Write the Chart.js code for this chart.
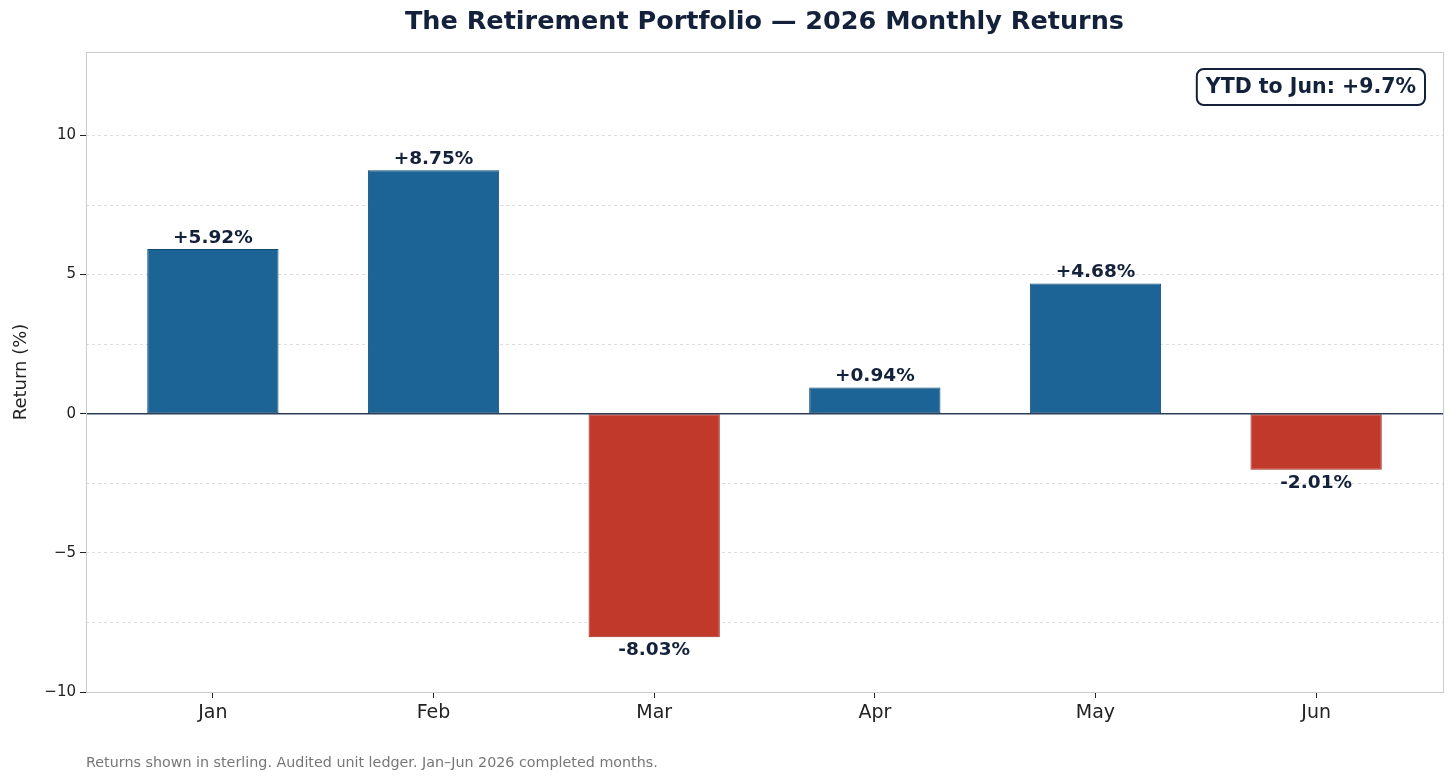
<!DOCTYPE html>
<html>
<head>
<meta charset="utf-8">
<script src="https://cdn.jsdelivr.net/npm/chart.js@4.4.1/dist/chart.umd.min.js"></script>
<style>
  html, body { margin: 0; padding: 0; background: #fff; }
  #wrap { width: 1456px; height: 783px; position: relative; }
</style>
</head>
<body>
<div id="wrap"><canvas id="c" width="1456" height="783"></canvas></div>
<script>
// data
const months = ['Jan', 'Feb', 'Mar', 'Apr', 'May', 'Jun'];
const returns = [5.92, 8.75, -8.03, 0.94, 4.68, -2.01];
const yTicks = [-10, -5, 0, 5, 10];
const ytdText = 'YTD to Jun: +9.7%';
const titleText = 'The Retirement Portfolio \u2014 2026 Monthly Returns';
const footText = 'Returns shown in sterling. Audited unit ledger. Jan\u2013Jun 2026 completed months.';

const NAVY = '#13213b';
const FONT = '"DejaVu Sans", sans-serif';

// frame, zero line, value labels, title, ytd box, footnote
const extras = {
  id: 'extras',
  afterDatasetsDraw(chart) {
    const { ctx, chartArea: a, scales } = chart;
    const y0 = scales.y.getPixelForValue(0);
    ctx.save();
    ctx.strokeStyle = '#2c3e5a';
    ctx.lineWidth = 1.5;
    ctx.beginPath();
    ctx.moveTo(a.left, y0);
    ctx.lineTo(a.right, y0);
    ctx.stroke();

    // value labels
    const meta = chart.getDatasetMeta(0);
    ctx.fillStyle = NAVY;
    ctx.font = 'bold 18.5px ' + FONT;
    ctx.textAlign = 'center';
    meta.data.forEach((bar, i) => {
      const v = returns[i];
      const txt = (v >= 0 ? '+' : '') + v.toFixed(2) + '%';
      if (v >= 0) {
        ctx.textBaseline = 'bottom';
        ctx.fillText(txt, bar.x, bar.y - 2);
      } else {
        ctx.textBaseline = 'top';
        ctx.fillText(txt, bar.x, bar.y + 4);
      }
    });
    ctx.restore();
  },
  afterDraw(chart) {
    const { ctx, chartArea: a } = chart;
    ctx.save();
    // plot frame
    ctx.strokeStyle = '#cccccc';
    ctx.lineWidth = 1;
    ctx.strokeRect(a.left + 0.5, a.top + 0.5, a.right - a.left, a.bottom - a.top);

    // title
    ctx.fillStyle = NAVY;
    ctx.font = 'bold 25.5px ' + FONT;
    ctx.textAlign = 'center';
    ctx.textBaseline = 'middle';
    ctx.fillText(titleText, (a.left + a.right) / 2, 22);

    // y axis title
    ctx.save();
    ctx.translate(21, (a.top + a.bottom) / 2);
    ctx.rotate(-Math.PI / 2);
    ctx.fillStyle = '#222';
    ctx.font = '18px ' + FONT;
    ctx.fillText('Return (%)', 0, 0);
    ctx.restore();

    // ytd box
    ctx.font = 'bold 20.5px ' + FONT;
    const w = ctx.measureText(ytdText).width + 18;
    const h = 36;
    const bx = a.right - 18 - w, by = 69;
    ctx.beginPath();
    ctx.roundRect(bx, by, w, h, 7);
    ctx.fillStyle = '#fff';
    ctx.fill();
    ctx.strokeStyle = NAVY;
    ctx.lineWidth = 2;
    ctx.stroke();
    ctx.fillStyle = NAVY;
    ctx.textAlign = 'center';
    ctx.fillText(ytdText, bx + w / 2, by + h / 2 + 1);

    // footnote
    ctx.fillStyle = '#777777';
    ctx.font = '14.3px ' + FONT;
    ctx.textAlign = 'left';
    ctx.fillText(footText, a.left, 763);
    ctx.restore();
  }
};

new Chart(document.getElementById('c'), {
  type: 'bar',
  data: {
    datasets: [{
      data: returns.map((v, i) => ({ x: i, y: v })),
      backgroundColor: returns.map(v => v >= 0 ? '#1c6496' : '#c0392b'),
      borderColor: returns.map(v => v >= 0 ? '#134a72' : '#a3281c'),
      borderWidth: 1,
      borderSkipped: false,
      categoryPercentage: 1,
      barPercentage: 0.595
    }]
  },
  options: {
    responsive: false,
    animation: false,
    devicePixelRatio: 1,
    layout: { padding: { top: 52, right: 13, left: 0, bottom: 41 } },
    plugins: { legend: { display: false }, tooltip: { enabled: false }, title: { display: false } },
    scales: {
      x: {
        type: 'linear',
        min: -0.575,
        max: 5.575,
        offset: false,
        afterBuildTicks(s) { s.ticks = months.map((m, i) => ({ value: i })); },
        grid: { display: true, offset: false, drawOnChartArea: false, drawTicks: true, tickLength: 6, tickColor: '#222', tickWidth: 1 },
        border: { display: false },
        ticks: { color: '#222', font: { family: FONT, size: 19 }, padding: 4, callback: v => months[v] },
        afterFit(s) { s.height = 50; }
      },
      y: {
        min: -10,
        max: 13,
        afterBuildTicks(s) {
          const t = [];
          for (let v = -10; v <= 10; v += 2.5) t.push({ value: v });
          s.ticks = t;
        },
        grid: {
          color: c => c.tick && c.tick.value === 0 ? 'rgba(0,0,0,0)' : '#dddddd',
          lineWidth: 1,
          tickColor: c => c.tick && yTicks.includes(c.tick.value) ? '#222' : 'rgba(0,0,0,0)',
          tickLength: 6,
          drawTicks: true
        },
        border: { display: false, dash: [3, 3] },
        ticks: {
          color: '#222',
          font: { family: FONT, size: 15 },
          padding: 4,
          callback: v => yTicks.includes(v) ? String(v).replace('-', '\u2212') : ''
        },
        afterFit(s) { s.width = 86; }
      }
    }
  },
  plugins: [extras]
});
</script>
</body>
</html>
